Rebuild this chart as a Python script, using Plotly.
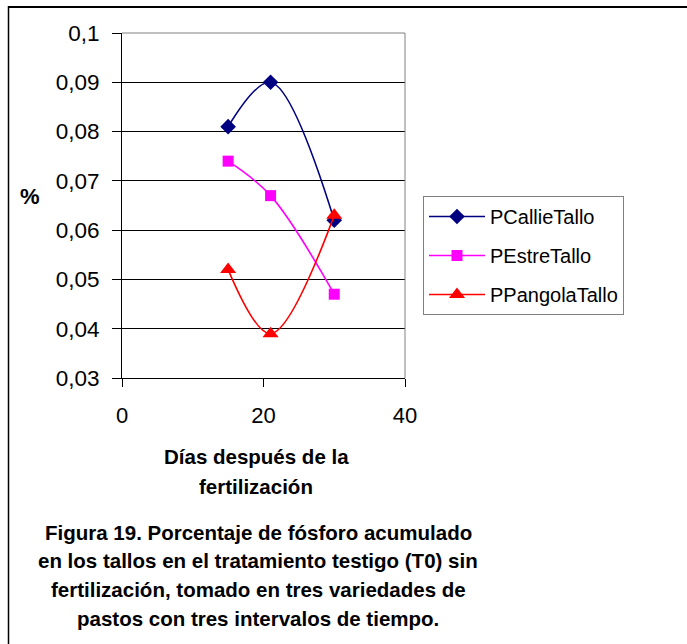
import plotly.graph_objects as go

# Days after fertilization and phosphorus (%) in stems for each pasture variety
dias = [15, 21, 30]
p_callie = [0.081, 0.090, 0.062]
p_estre = [0.074, 0.067, 0.047]
p_pangola = [0.052, 0.039, 0.063]

series_names = ["PCallieTallo", "PEstreTallo", "PPangolaTallo"]

y_ticks = [0.03, 0.04, 0.05, 0.06, 0.07, 0.08, 0.09, 0.1]
y_ticktext = ["0,03", "0,04", "0,05", "0,06", "0,07", "0,08", "0,09", "0,1"]
x_ticks = [0, 20, 40]
x_ticktext = ["0", "20", "40"]

x_title_lines = ["Días después de la", "fertilización"]
caption_lines = [
    "Figura 19. Porcentaje de fósforo acumulado",
    "en los tallos en el tratamiento testigo (T0) sin",
    "fertilización, tomado en tres variedades de",
    "pastos con tres intervalos de tiempo.",
]

W, H = 687, 644
L, R, T, B = 122, 282, 33, 266
PW, PH = W - L - R, H - T - B


def px_x(px):
    return (px - L) / PW


def px_y(py):
    return (H - B - py) / PH


FONT = "Liberation Sans, Arial, sans-serif"

styles = [
    dict(color="#000080", symbol="diamond", size=12),
    dict(color="#FF00FF", symbol="square", size=11),
    dict(color="#FF0000", symbol="triangle-up", size=14),
]

fig = go.Figure()
for name, vals, st in zip(series_names, [p_callie, p_estre, p_pangola], styles):
    fig.add_trace(go.Scatter(
        x=dias, y=vals, name=name, mode="lines+markers",
        legendgroup=name,
        line=dict(color=st["color"], width=1.6, shape="spline", smoothing=1),
        marker=dict(color=st["color"], symbol=st["symbol"], size=st["size"],
                    line=dict(width=0)),
    ))

fig.update_layout(
    width=W, height=H,
    margin=dict(l=L, r=R, t=T, b=B),
    paper_bgcolor="white", plot_bgcolor="white",
    font=dict(family=FONT, color="black"),
    showlegend=True,
    legend=dict(
        x=px_x(423), y=px_y(196), xanchor="left", yanchor="top",
        bordercolor="#808080", borderwidth=1, bgcolor="white",
        font=dict(family=FONT, size=20, color="black"),
        tracegroupgap=10, itemwidth=56,
    ),
    xaxis=dict(
        range=[0, 40], tickmode="array", tickvals=x_ticks, ticktext=x_ticktext,
        showgrid=False, zeroline=False,
        showline=True, linecolor="black", linewidth=1,
        ticks="outside", ticklen=8, tickcolor="black", tickwidth=1,
        tickfont=dict(family=FONT, size=22, color="black"),
        ticklabelstandoff=10,
    ),
    yaxis=dict(
        range=[0.03, 0.1], tickmode="array", tickvals=y_ticks, ticktext=y_ticktext,
        showgrid=True, gridcolor="black", gridwidth=1, zeroline=False,
        showline=True, linecolor="black", linewidth=1,
        ticks="outside", ticklen=9, tickcolor="black", tickwidth=1,
        tickfont=dict(family=FONT, size=22.5, color="black"),
        ticklabelstandoff=8,
    ),
)

shapes = [
    # plot area frame (grey on top and right)
    dict(type="line", xref="paper", yref="paper", x0=0, x1=1, y0=1, y1=1,
         line=dict(color="#808080", width=1), layer="above"),
    dict(type="line", xref="paper", yref="paper", x0=1, x1=1, y0=0, y1=1,
         line=dict(color="#808080", width=1), layer="above"),
    # outer figure frame
    dict(type="line", xref="paper", yref="paper", x0=px_x(8), x1=px_x(690),
         y0=px_y(7), y1=px_y(7), line=dict(color="black", width=2)),
    dict(type="line", xref="paper", yref="paper", x0=px_x(8.5), x1=px_x(8.5),
         y0=px_y(6), y1=px_y(650), line=dict(color="black", width=1.5)),
]
fig.update_layout(shapes=shapes)

annotations = [
    dict(text="<b>%</b>", x=px_x(30), y=px_y(197), xref="paper", yref="paper",
         showarrow=False, xanchor="center", yanchor="middle",
         font=dict(family=FONT, size=22, color="black")),
]
for i, line in enumerate(x_title_lines):
    annotations.append(dict(
        text=f"<b>{line}</b>", x=px_x(256), y=px_y(456 + 30.5 * i),
        xref="paper", yref="paper", showarrow=False,
        xanchor="center", yanchor="middle",
        font=dict(family=FONT, size=20.5, color="black")))
for i, line in enumerate(caption_lines):
    annotations.append(dict(
        text=f"<b>{line}</b>", x=px_x(258), y=px_y(532 + 28.7 * i),
        xref="paper", yref="paper", showarrow=False,
        xanchor="center", yanchor="middle",
        font=dict(family=FONT, size=20.5, color="black")))
fig.update_layout(annotations=annotations)

fig.write_html("out.html")
